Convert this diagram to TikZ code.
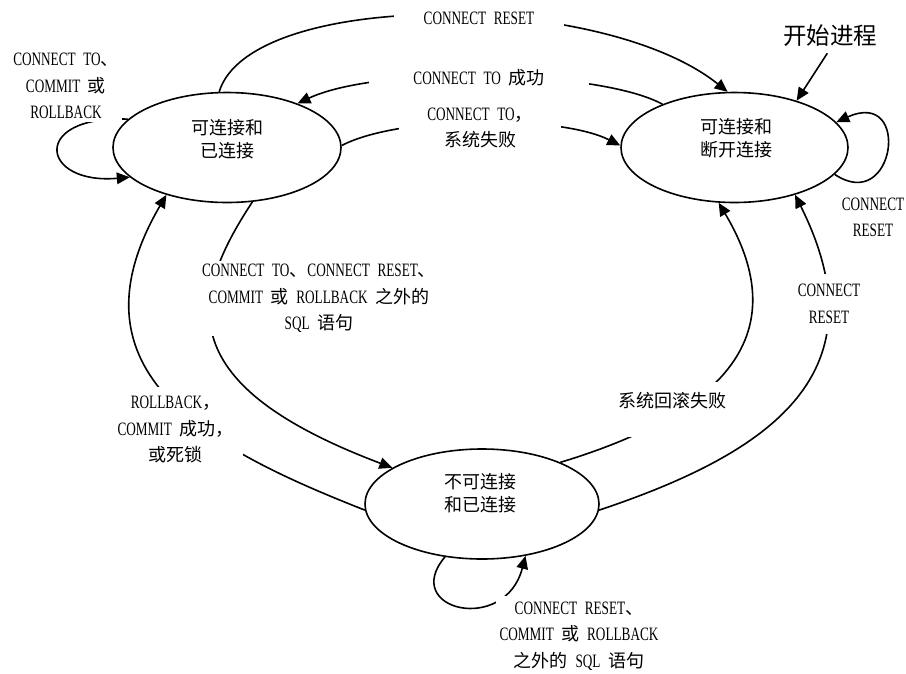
\documentclass[tikz,border=0pt]{standalone}
\usepackage{fontspec}
\setmainfont{Liberation Serif}[Scale=1.05,FakeStretch=0.70,WordSpace=2.3]
\newfontfamily\cjk{Noto Sans CJK SC}
\newcommand\zhs[1]{{\cjk #1}}
\usetikzlibrary{shapes.geometric,arrows.meta}
\begin{document}
\begin{tikzpicture}[x=1pt,y=-1pt,
  st/.style={ellipse, draw, line width=1.6pt, inner sep=0pt, minimum height=110pt},
  sttext/.style={align=center, inner sep=0pt, font=\cjk\fontsize{18}{23}\selectfont},
  arr/.style={line width=1.6pt, -{Triangle[length=13pt,width=11.5pt]}},
  lab/.style={fill=white, inner sep=2pt, align=center, font=\fontsize{18}{26.5}\selectfont}]
\useasboundingbox (0,0) rectangle (906,673);

% states
\node[st, minimum width=228pt] (A) at (227,147.5) {};
\node[st, minimum width=227pt] (B) at (734.5,147.5) {};
\node[st, minimum width=234pt] (C) at (482,504) {};
\node[sttext] (At) at (227.5,139) {可连接和\\已连接};
\node[sttext] (Bt) at (736,138) {可连接和\\断开连接};
\node[sttext] (Ct) at (480,493.5) {不可连接\\和已连接};

% connectors
\draw[arr] (A.98) .. controls (250,-10) and (600,-10) .. (B.97);
\draw[arr] (B.149) .. controls (600,70) and (380,65) .. (A.32);
\draw[arr] (A.1) .. controls (400,115) and (560,115) .. (B.179);
\draw[arr] (A.164) .. controls (30,115) and (40,185) .. (A.197);
\draw[arr] (B.345) .. controls (895,215) and (912,88) .. (B.14);
\draw[arr] (C.28) .. controls (700,420) and (805,348) .. (B.254);
\draw[arr] (C.357) .. controls (776,451) and (883,371) .. (B.322);
\draw[arr] (A.295) .. controls (187,301) and (173,385) .. (C.158);
\draw[arr] (C.183) .. controls (212,450) and (62,374) .. (A.218);
\draw[arr] (C.235) .. controls (400,610) and (505,635) .. (C.310);

% labels
\node[lab, inner xsep=30pt] (l1) at (479,18) {CONNECT RESET};
\node[lab, inner xsep=44pt] (l2) at (479,78) {CONNECT TO \zhs{成功}};
\node[lab, inner xsep=28pt] (l3) at (480,128) {CONNECT TO\zhs{，}\\\zhs{系统失败}};
\node[lab, inner sep=3pt] (l4) at (66,86) {CONNECT TO\zhs{、}\\COMMIT \zhs{或}\\ROLLBACK};
\node[lab] (l5) at (873,217.5) {CONNECT\\RESET};
\node[inner sep=2pt, font=\cjk\fontsize{23.5}{28}\selectfont] (S) at (830,36) {开始进程};
\draw[arr, shorten <=5pt] (S.south) -- (B.37);
\node[lab, inner sep=3pt] (l7) at (319,298.5) {CONNECT TO\zhs{、}CONNECT RESET\zhs{、}\\COMMIT \zhs{或} ROLLBACK \zhs{之外的}\\SQL \zhs{语句}};
\node[lab, inner xsep=3pt, inner ysep=10pt] (l8) at (829,304) {CONNECT\\RESET};
\node[lab, inner xsep=3pt, inner ysep=10pt, text depth=20pt, font=\cjk\fontsize{18}{26.5}\selectfont] (l9) at (672.5,409.6) {系统回滚失败};
\node[lab, inner sep=9pt] (l10) at (175.5,429.5) {ROLLBACK\zhs{，}\\COMMIT \zhs{成功，}\\\zhs{或死锁}};
\node[lab, inner xsep=4pt, inner ysep=6pt] (l11) at (579,636) {CONNECT RESET\zhs{、}\\COMMIT \zhs{或} ROLLBACK\\\zhs{之外的} SQL \zhs{语句}};
\end{tikzpicture}
\end{document}
